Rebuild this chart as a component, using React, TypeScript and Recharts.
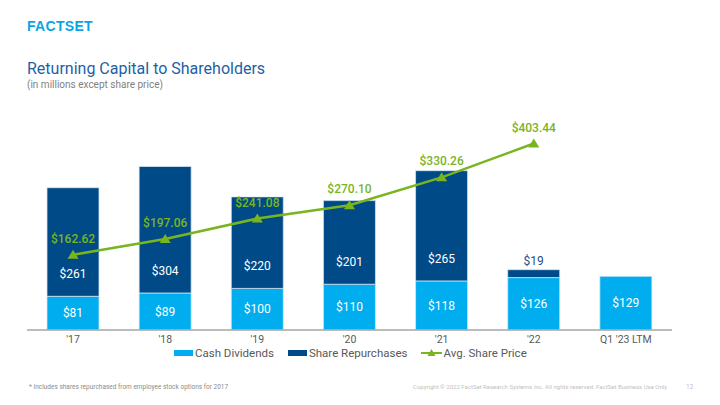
import { Bar, ComposedChart, LabelList, Line, XAxis, YAxis } from "recharts";

const categories = ["'17", "'18", "'19", "'20", "'21", "'22", "Q1 '23 LTM"];
const cashDividends = [81, 89, 100, 110, 118, 126, 129];
const shareRepurchases = [261, 304, 220, 201, 265, 19, null];
const avgSharePrice = [162.62, 197.06, 241.08, 270.1, 330.26, 403.44, null];

const seriesNames = ["Cash Dividends", "Share Repurchases", "Avg. Share Price"];

const LIGHT = "#00AEEF";
const DARK = "#004B87";
const GREEN = "#78B51E";
const FONT = "Roboto, 'Noto Sans', sans-serif";

const data = categories.map((name, i) => ({
  name,
  dividends: cashDividends[i],
  repurchases: shareRepurchases[i],
  price: avgSharePrice[i],
}));

const money = (v: unknown) => (v == null ? "" : `$${v}`);

function TriangleDot(props: any) {
  const { cx, cy, value } = props;
  if (value == null || cx == null || cy == null) return null;
  return (
    <polygon
      points={`${cx - 5.5},${cy + 4} ${cx + 5.5},${cy + 4} ${cx},${cy - 5}`}
      fill={GREEN}
    />
  );
}

function RepurchaseLabel(props: any) {
  const { x, y, width, height, value } = props;
  if (value == null) return null;
  const small = height < 20;
  return (
    <text
      x={x + width / 2}
      y={small ? y - 9 : y + height - 22}
      textAnchor="middle"
      dominantBaseline="central"
      fill={small ? "#1F4E8C" : "#fff"}
      fontSize={12}
      fontFamily={FONT}
    >
      {`$${value}`}
    </text>
  );
}

function LegendIcon({ index }: { index: number }) {
  if (index === 2) {
    return (
      <svg width={21} height={10} style={{ marginRight: 1 }}>
        <line x1={0} y1={5} x2={21} y2={5} stroke={GREEN} strokeWidth={2} />
        <polygon points="6.5,8 14.5,8 10.5,1" fill={GREEN} />
      </svg>
    );
  }
  return (
    <span
      style={{
        display: "inline-block",
        width: 19,
        height: 6,
        background: index === 0 ? LIGHT : DARK,
        marginRight: 2,
      }}
    />
  );
}

export default function App() {
  return (
    <div
      style={{
        position: "absolute",
        left: 0,
        top: 0,
        width: 720,
        height: 405,
        background: "#fff",
        fontFamily: FONT,
        overflow: "hidden",
      }}
    >
      <div
        style={{
          position: "absolute",
          left: 27,
          top: 18,
          fontFamily: "'Liberation Sans', Arial, sans-serif",
          fontWeight: 900,
          fontSize: 14,
          letterSpacing: 0.3,
          color: "#0AA5E8",
        }}
      >
        FACTSET
      </div>
      <div
        style={{
          position: "absolute",
          left: 27,
          top: 59,
          fontSize: 16,
          color: "#1D5FA6",
        }}
      >
        Returning Capital to Shareholders
      </div>
      <div
        style={{
          position: "absolute",
          left: 27,
          top: 79,
          fontSize: 10,
          color: "#7F7F7F",
        }}
      >
        (in millions except share price)
      </div>

      <div style={{ position: "absolute", left: 0, top: 0 }}>
        <ComposedChart
          width={720}
          height={405}
          data={data}
          margin={{ top: 122, right: 48, bottom: 55, left: 27 }}
          barSize={52}
        >
          <XAxis
            dataKey="name"
            height={20}
            axisLine={{ stroke: "#A6A6A6", strokeWidth: 1.5 }}
            tickLine={false}
            tick={{ fontSize: 10.5, fill: "#595959", fontFamily: FONT }}
            tickMargin={0}
          />
          <YAxis yAxisId="m" hide domain={[0, 500]} />
          <YAxis yAxisId="p" hide domain={[0, 450]} orientation="right" />
          <Bar
            yAxisId="m"
            dataKey="dividends"
            stackId="a"
            fill={LIGHT}
            stroke="#D6E6F3"
            strokeWidth={0.75}
            isAnimationActive={false}
          >
            <LabelList
              dataKey="dividends"
              position="center"
              formatter={money}
              fill="#fff"
              fontSize={12}
              fontFamily={FONT}
            />
          </Bar>
          <Bar
            yAxisId="m"
            dataKey="repurchases"
            stackId="a"
            fill={DARK}
            stroke="#D6E6F3"
            strokeWidth={0.75}
            isAnimationActive={false}
          >
            <LabelList dataKey="repurchases" content={<RepurchaseLabel />} />
          </Bar>
          <Line
            yAxisId="p"
            dataKey="price"
            stroke={GREEN}
            strokeWidth={2.5}
            type="linear"
            dot={<TriangleDot />}
            activeDot={false}
            connectNulls={false}
            isAnimationActive={false}
          >
            <LabelList
              dataKey="price"
              position="top"
              offset={12}
              formatter={(v: unknown) => (v == null ? "" : `$${Number(v).toFixed(2)}`)}
              fill={GREEN}
              fontSize={12}
              fontWeight={500}
              fontFamily={FONT}
            />
          </Line>
        </ComposedChart>
      </div>

      <div
        style={{
          position: "absolute",
          left: 174,
          top: 347,
          display: "flex",
          alignItems: "center",
          gap: 14,
          fontSize: 11.5,
          lineHeight: "12px",
          color: "#595959",
        }}
      >
        {seriesNames.map((n, i) => (
          <div key={n} style={{ display: "flex", alignItems: "center" }}>
            <LegendIcon index={i} />
            <span>{n}</span>
          </div>
        ))}
      </div>

      <div
        style={{
          position: "absolute",
          left: 29,
          top: 383,
          fontSize: 6.5,
          color: "#8C8C8C",
        }}
      >
        * Includes shares repurchased from employee stock options for 2017
      </div>
      <div
        style={{
          position: "absolute",
          left: 413,
          top: 383,
          fontSize: 6,
          color: "#BFBFBF",
        }}
      >
        Copyright © 2022 FactSet Research Systems Inc. All rights reserved. FactSet Business Use Only
      </div>
      <div
        style={{
          position: "absolute",
          left: 686,
          top: 383,
          fontSize: 6.5,
          color: "#BFBFBF",
        }}
      >
        12
      </div>
    </div>
  );
}
